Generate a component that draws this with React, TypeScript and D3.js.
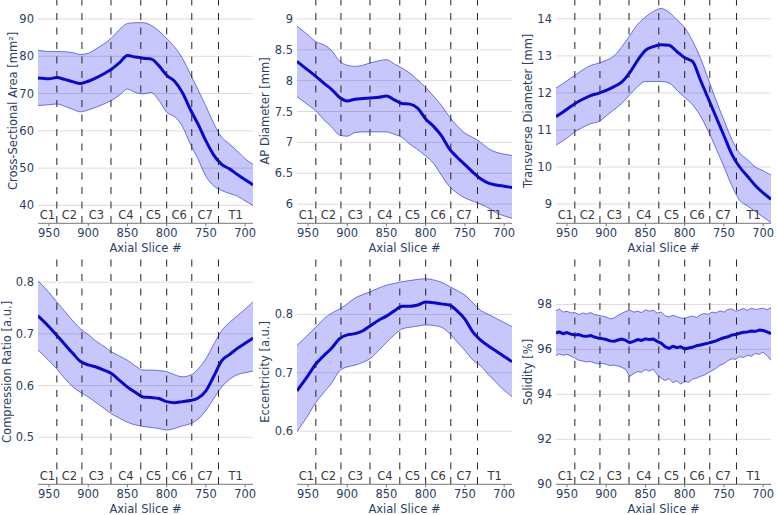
import React from 'react';
import * as d3 from 'd3';

// slice positions (axial slice #), top of the cord first
const slices = [964, 950, 940, 930, 920, 910, 900, 890, 880, 870, 860, 850, 840, 830, 820, 810, 800, 790, 780, 770, 760, 750, 740, 730, 720, 710, 700, 690];

const csaMean = [74.2, 74.0, 74.3, 73.8, 73.2, 72.7, 73.3, 74.2, 75.3, 76.6, 78.3, 80.2, 79.8, 79.5, 79.3, 77.5, 74.9, 73.3, 70.3, 65.8, 61.8, 57.3, 53.5, 51.0, 49.8, 48.3, 46.9, 45.5];
const csaUpper = [81.6, 81.3, 81.3, 81.2, 81.0, 80.5, 80.8, 82.0, 83.3, 85.0, 87.2, 88.8, 89.0, 89.0, 88.3, 86.8, 84.8, 82.5, 79.5, 75.3, 71.0, 66.6, 62.0, 58.3, 56.5, 54.6, 52.5, 51.0];
const csaLower = [66.8, 67.0, 67.2, 66.6, 65.8, 65.1, 65.6, 66.3, 67.2, 68.2, 69.6, 71.2, 70.3, 69.9, 70.3, 68.2, 65.0, 63.8, 61.2, 56.5, 52.4, 47.8, 45.2, 44.0, 43.2, 42.5, 41.2, 40.0];

const apMean = [8.31, 8.17, 8.07, 7.96, 7.86, 7.73, 7.67, 7.70, 7.71, 7.72, 7.73, 7.75, 7.69, 7.63, 7.62, 7.55, 7.38, 7.26, 7.11, 6.90, 6.76, 6.64, 6.52, 6.41, 6.34, 6.31, 6.29, 6.27];
const apUpper = [8.88, 8.74, 8.63, 8.58, 8.49, 8.32, 8.25, 8.23, 8.25, 8.29, 8.32, 8.34, 8.27, 8.20, 8.12, 8.01, 7.89, 7.75, 7.60, 7.42, 7.27, 7.15, 7.08, 7.00, 6.90, 6.84, 6.81, 6.79];
const apLower = [7.74, 7.61, 7.51, 7.37, 7.25, 7.12, 7.10, 7.16, 7.17, 7.17, 7.17, 7.17, 7.13, 7.08, 6.97, 6.88, 6.78, 6.66, 6.47, 6.29, 6.18, 6.10, 6.05, 6.00, 5.94, 5.86, 5.81, 5.77];

const trMean = [11.36, 11.56, 11.71, 11.83, 11.93, 11.99, 12.07, 12.17, 12.30, 12.55, 12.88, 13.15, 13.25, 13.30, 13.29, 13.12, 12.95, 12.85, 12.35, 11.85, 11.35, 10.85, 10.35, 10.0, 9.75, 9.5, 9.3, 9.13];
const trUpper = [12.13, 12.33, 12.48, 12.62, 12.74, 12.80, 12.88, 13.0, 13.25, 13.55, 13.85, 14.05, 14.2, 14.28, 14.18, 13.98, 13.76, 13.4, 12.95, 12.38, 11.8, 11.27, 10.75, 10.38, 10.2, 10.0, 9.9, 9.78];
const trLower = [10.59, 10.78, 10.95, 11.07, 11.17, 11.22, 11.38, 11.55, 11.72, 11.95, 12.17, 12.31, 12.31, 12.31, 12.27, 12.08, 11.88, 11.68, 11.38, 10.97, 10.5, 10.01, 9.5, 9.1, 8.95, 8.8, 8.65, 8.5];

const crMean = [0.735, 0.714, 0.697, 0.680, 0.663, 0.647, 0.640, 0.636, 0.630, 0.623, 0.610, 0.597, 0.587, 0.578, 0.577, 0.575, 0.569, 0.567, 0.569, 0.571, 0.576, 0.590, 0.618, 0.648, 0.660, 0.672, 0.682, 0.692];
const crUpper = [0.803, 0.780, 0.762, 0.744, 0.726, 0.710, 0.699, 0.686, 0.676, 0.665, 0.657, 0.649, 0.638, 0.630, 0.630, 0.629, 0.627, 0.621, 0.617, 0.620, 0.632, 0.652, 0.680, 0.706, 0.722, 0.735, 0.748, 0.762];
const crLower = [0.669, 0.648, 0.632, 0.614, 0.598, 0.587, 0.578, 0.567, 0.556, 0.545, 0.537, 0.529, 0.524, 0.521, 0.519, 0.517, 0.514, 0.517, 0.522, 0.526, 0.535, 0.552, 0.575, 0.597, 0.612, 0.621, 0.625, 0.628];

const ecMean = [0.669, 0.695, 0.715, 0.729, 0.742, 0.758, 0.765, 0.767, 0.772, 0.781, 0.790, 0.797, 0.806, 0.814, 0.814, 0.816, 0.821, 0.820, 0.818, 0.816, 0.806, 0.792, 0.770, 0.756, 0.746, 0.737, 0.728, 0.719];
const ecUpper = [0.747, 0.765, 0.778, 0.792, 0.802, 0.809, 0.818, 0.828, 0.834, 0.839, 0.845, 0.850, 0.853, 0.856, 0.858, 0.860, 0.861, 0.859, 0.855, 0.848, 0.841, 0.833, 0.820, 0.807, 0.800, 0.793, 0.786, 0.779];
const ecLower = [0.599, 0.627, 0.649, 0.666, 0.682, 0.703, 0.710, 0.713, 0.718, 0.725, 0.738, 0.752, 0.765, 0.775, 0.778, 0.780, 0.782, 0.781, 0.778, 0.768, 0.753, 0.738, 0.722, 0.712, 0.697, 0.683, 0.670, 0.659];

// solidity is noisier, read at a finer step
const solSlices = [964, 960, 955, 950, 945, 940, 935, 930, 925, 920, 915, 910, 905, 900, 895, 890, 885, 880, 875, 870, 865, 860, 855, 850, 845, 840, 835, 830, 825, 820, 815, 810, 805, 800, 795, 790, 785, 780, 775, 770, 765, 760, 755, 750, 745, 740, 735, 730, 725, 720, 715, 710, 705, 700, 695, 690];
const solMean = [96.72, 96.78, 96.70, 96.75, 96.68, 96.64, 96.66, 96.60, 96.58, 96.62, 96.55, 96.50, 96.48, 96.44, 96.38, 96.36, 96.42, 96.46, 96.40, 96.30, 96.36, 96.44, 96.40, 96.47, 96.44, 96.46, 96.36, 96.28, 96.12, 96.05, 96.14, 96.08, 96.12, 96.02, 96.06, 96.10, 96.16, 96.20, 96.24, 96.28, 96.33, 96.38, 96.46, 96.52, 96.56, 96.64, 96.66, 96.72, 96.76, 96.78, 96.82, 96.80, 96.86, 96.84, 96.78, 96.70];
const solUpper = [97.72, 97.80, 97.66, 97.70, 97.62, 97.64, 97.55, 97.62, 97.58, 97.64, 97.55, 97.52, 97.48, 97.44, 97.36, 97.40, 97.52, 97.60, 97.70, 97.74, 97.66, 97.70, 97.64, 97.76, 97.70, 97.74, 97.62, 97.66, 97.50, 97.44, 97.52, 97.46, 97.40, 97.38, 97.44, 97.48, 97.42, 97.54, 97.60, 97.56, 97.66, 97.62, 97.72, 97.66, 97.78, 97.80, 97.70, 97.76, 97.82, 97.74, 97.84, 97.78, 97.80, 97.84, 97.76, 97.86];
const solLower = [95.72, 95.80, 95.74, 95.78, 95.70, 95.62, 95.52, 95.48, 95.44, 95.46, 95.40, 95.36, 95.38, 95.34, 95.28, 95.30, 95.26, 95.20, 95.10, 94.80, 94.92, 95.02, 94.98, 95.10, 95.04, 95.12, 94.88, 94.72, 94.62, 94.70, 94.52, 94.60, 94.46, 94.58, 94.54, 94.68, 94.72, 94.80, 94.86, 94.96, 95.06, 95.16, 95.30, 95.36, 95.50, 95.58, 95.56, 95.68, 95.64, 95.74, 95.70, 95.82, 95.78, 95.88, 95.72, 95.52];

// vertebral level boundaries and names
const levelBounds = [940, 908, 871, 833, 800, 768, 734];
const levelNames = ['C1', 'C2', 'C3', 'C4', 'C5', 'C6', 'C7', 'T1'];
const xTicks = [950, 900, 850, 800, 750, 700];
const xDomain = [964, 690];

const FONT = '"DejaVu Sans", Verdana, sans-serif';
const TXT = '#2a3f5f';
const PW = 215;
const lefts = [38, 297, 556];
const rows = [{ top: -1.5, bottom: 223.3 }, { top: 259.5, bottom: 484.3 }];

const panels = [
  { title: 'Cross-Sectional Area [mm²]', xs: slices, mean: csaMean, upper: csaUpper, lower: csaLower, domain: [35.2, 95.5], ticks: [40, 50, 60, 70, 80, 90], col: 0, row: 0, titleX: 13, smooth: true },
  { title: 'AP Diameter [mm]', xs: slices, mean: apMean, upper: apUpper, lower: apLower, domain: [5.69, 9.33], ticks: [6, 6.5, 7, 7.5, 8, 8.5, 9], col: 1, row: 0, titleX: 265, smooth: true },
  { title: 'Transverse Diameter [mm]', xs: slices, mean: trMean, upper: trUpper, lower: trLower, domain: [8.48, 14.55], ticks: [9, 10, 11, 12, 13, 14], col: 2, row: 0, titleX: 528, smooth: true },
  { title: 'Compression Ratio [a.u.]', xs: slices, mean: crMean, upper: crUpper, lower: crLower, domain: [0.409, 0.844], ticks: [0.5, 0.6, 0.7, 0.8], col: 0, row: 1, titleX: 7, smooth: true },
  { title: 'Eccentricity [a.u.]', xs: slices, mean: ecMean, upper: ecUpper, lower: ecLower, domain: [0.509, 0.894], ticks: [0.6, 0.7, 0.8], col: 1, row: 1, titleX: 265, smooth: true },
  { title: 'Solidity [%]', xs: solSlices, mean: solMean, upper: solUpper, lower: solLower, domain: [90, 100], ticks: [90, 92, 94, 96, 98], col: 2, row: 1, titleX: 528, smooth: false },
];

function Panel({ p, idx }: { p: any; idx: number }) {
  const left = lefts[p.col];
  const { top, bottom } = rows[p.row];
  const x = d3.scaleLinear().domain(xDomain).range([left, left + PW]);
  const y = d3.scaleLinear().domain(p.domain).range([bottom, top]);
  const curve = p.smooth ? d3.curveMonotoneX : d3.curveLinear;
  const pts = p.xs.map((s: number, i: number) => ({ s, m: p.mean[i], u: p.upper[i], l: p.lower[i] }));

  const area = d3.area<any>().x(d => x(d.s)).y0(d => y(d.l)).y1(d => y(d.u)).curve(curve);
  const upLine = d3.line<any>().x(d => x(d.s)).y(d => y(d.u)).curve(curve);
  const loLine = d3.line<any>().x(d => x(d.s)).y(d => y(d.l)).curve(curve);
  const meanLine = d3.line<any>().x(d => x(d.s)).y(d => y(d.m)).curve(curve);

  const edges = [xDomain[0], ...levelBounds, xDomain[1]];
  const clipId = `clip${idx}`;

  return (
    <g>
      <defs>
        <clipPath id={clipId}>
          <rect x={left} y={top} width={PW} height={bottom - top} />
        </clipPath>
      </defs>
      {p.ticks.map((t: number) => (
        <line key={`g${t}`} x1={left} x2={left + PW} y1={y(t)} y2={y(t)} stroke="#dcdcdc" strokeWidth={1} />
      ))}
      <g clipPath={`url(#${clipId})`}>
        <path d={area(pts) || ''} fill="rgba(0,0,235,0.22)" stroke="none" />
        <path d={upLine(pts) || ''} fill="none" stroke="rgba(30,30,220,0.75)" strokeWidth={0.8} />
        <path d={loLine(pts) || ''} fill="none" stroke="rgba(30,30,220,0.75)" strokeWidth={0.8} />
        <path d={meanLine(pts) || ''} fill="none" stroke="#0808d0" strokeWidth={3} strokeLinejoin="round" />
      </g>
      {levelBounds.map(b => (
        <line key={`b${b}`} x1={x(b)} x2={x(b)} y1={top} y2={bottom} stroke="#222" strokeWidth={1} strokeDasharray="7,7.5" />
      ))}
      {levelNames.map((n, i) => (
        <text key={n} x={x((edges[i] + edges[i + 1]) / 2)} y={bottom - 8} textAnchor="middle" dominantBaseline="central"
          fontFamily={FONT} fontSize={11.5} fill="#3a3a3a">{n}</text>
      ))}
      <line x1={left} x2={left + PW} y1={bottom} y2={bottom} stroke="#777" strokeWidth={1} />
      {xTicks.map(t => (
        <g key={`x${t}`}>
          <line x1={x(t)} x2={x(t)} y1={bottom} y2={bottom + 3} stroke="#777" strokeWidth={1} />
          <text x={x(t)} y={bottom + 10} textAnchor="middle" dominantBaseline="central" fontFamily={FONT} fontSize={11.5} fill={TXT}>{t}</text>
        </g>
      ))}
      <text x={left + PW / 2} y={bottom + 25} textAnchor="middle" dominantBaseline="central" fontFamily={FONT} fontSize={11.5} fill={TXT}>Axial Slice #</text>
      {p.ticks.map((t: number) => (
        <text key={`y${t}`} x={left - 4} y={y(t)} textAnchor="end" dominantBaseline="central" fontFamily={FONT} fontSize={11.5} fill={TXT}>{String(t)}</text>
      ))}
      <text transform={`translate(${p.titleX},${(top + bottom) / 2}) rotate(-90)`} textAnchor="middle" dominantBaseline="central"
        fontFamily={FONT} fontSize={11.5} fill={TXT}>{p.title}</text>
    </g>
  );
}

export default function App() {
  return (
    <svg width={777} height={515} style={{ position: 'absolute', left: 0, top: 0, background: '#fff' }}>
      <rect width={777} height={515} fill="#fff" />
      {panels.map((p, i) => <Panel key={i} p={p} idx={i} />)}
    </svg>
  );
}
